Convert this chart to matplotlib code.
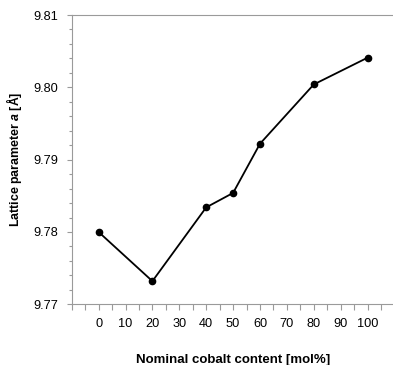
import numpy as np
import matplotlib.pyplot as plt
from matplotlib.ticker import MultipleLocator, FixedLocator

# data
cobalt = [0, 20, 40, 50, 60, 80, 100]
lattice_a = [9.7800, 9.7732, 9.7834, 9.7854, 9.7922, 9.8004, 9.8041]

x_ticks = list(range(-10, 111, 10))
x_labels = ["" if (t < 0 or t > 100) else str(t) for t in x_ticks]
y_ticks = [9.77, 9.78, 9.79, 9.80, 9.81]

plt.rcParams['font.family'] = ['Liberation Sans', 'DejaVu Sans']
plt.rcParams['mathtext.fontset'] = 'custom'
plt.rcParams['mathtext.bfit'] = 'Liberation Sans:italic:bold'
plt.rcParams['mathtext.it'] = 'Liberation Sans:italic'
plt.rcParams['mathtext.rm'] = 'Liberation Sans'

fig = plt.figure(figsize=(3.93, 3.65), dpi=100)
# axes box in pixels: left 72, top 15, bottom 304, right beyond edge
W, H = 393, 365
ax = fig.add_axes([71.7 / W, 1 - 304.3 / H, (394.5 - 71.7) / W, (304.3 - 15) / H])

ax.plot(cobalt, lattice_a, color='black', lw=1.3, marker='o', ms=4.5, zorder=3,
        clip_on=False)

ax.set_xlim(-10, 110)
ax.set_ylim(9.77, 9.81)

ax.xaxis.set_major_locator(FixedLocator(x_ticks))
ax.set_xticklabels(x_labels)
ax.xaxis.set_minor_locator(MultipleLocator(5))
ax.set_yticks(y_ticks)
ax.set_yticklabels([f"{v:.2f}" for v in y_ticks])
ax.yaxis.set_minor_locator(MultipleLocator(0.002))

grey = '#9a9a9a'
for s in ax.spines.values():
    s.set_color(grey)
    s.set_linewidth(0.8)

ax.tick_params(axis='both', which='both', direction='out', color=grey, width=0.8,
               labelsize=9.2, labelcolor='black')
ax.tick_params(axis='y', which='major', length=3.5, pad=6)
ax.tick_params(axis='y', which='minor', length=2.2)
ax.tick_params(axis='x', which='major', length=4, pad=6)
ax.tick_params(axis='x', which='minor', length=4)

ax.set_xlabel("Nominal cobalt content [mol%]", fontsize=9.5, fontweight='bold',
              labelpad=17)
ax.set_ylabel("Lattice parameter $\\mathbfit{a}$ [Å]", fontsize=8.9,
              fontweight='bold', labelpad=7)

fig.savefig("out.png", dpi=100)
